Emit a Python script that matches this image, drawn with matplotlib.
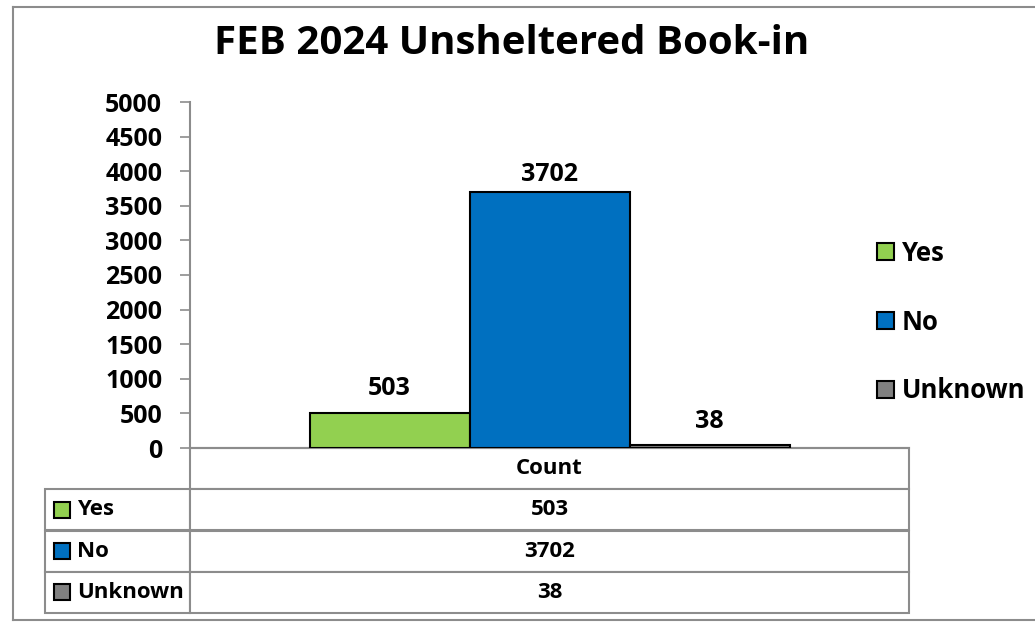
import matplotlib.pyplot as plt
from matplotlib.patches import Rectangle, Patch
from matplotlib.lines import Line2D

# Dados
categorias = ['Yes', 'No', 'Unknown']
valores = [503, 3702, 38]
cores = ['#92D050', '#0070C0', '#808080']
grupo = 'Count'
titulo = 'FEB 2024 Unsheltered Book-in'
yticks = list(range(0, 5001, 500))

plt.rcParams['font.family'] = ['Open Sans', 'DejaVu Sans']
plt.rcParams['font.weight'] = 'bold'

W, H = 1035, 622
fig = plt.figure(figsize=(W / 100, H / 100), dpi=100)

# área do gráfico (em pixels da figura)
x0, x1, ytop, ybot = 190, 909, 102, 448
ax = fig.add_axes([x0 / W, 1 - ybot / H, (x1 - x0) / W, (ybot - ytop) / H])

largura = 160 / (x1 - x0)
offsets = [(i - 1) * largura for i in range(len(categorias))]
barras = ax.bar(offsets, valores, width=largura, color=cores,
                edgecolor='black', linewidth=1.5, zorder=3)
# rótulos (o Excel deixa o maior mais perto da barra)
afast = [8.5, 3.5, 8.5]
for b, v, p in zip(barras, valores, afast):
    ax.annotate(str(v), (b.get_x() + b.get_width() / 2, v),
                xytext=(0, p), textcoords='offset points',
                ha='center', va='bottom', fontsize=18, fontweight='bold')

ax.set_xlim(-0.5, 0.5)
ax.set_ylim(0, 5000)
ax.set_yticks(yticks)
ax.set_yticklabels([str(t) for t in yticks], fontsize=18, fontweight='bold')
ax.set_xticks([])
ax.tick_params(axis='y', length=7, width=1.2, color='#8c8c8c', pad=13)
for s in ['top', 'right']:
    ax.spines[s].set_visible(False)
for s in ['left', 'bottom']:
    ax.spines[s].set_color('#8c8c8c')
    ax.spines[s].set_linewidth(1.5)

# tabela de dados
col_lab = (45 - x0) / (x1 - x0)
altura_tab = (613 - ybot) / (ybot - ytop)
linhas = [['', grupo]] + [[c, str(v)] for c, v in zip(categorias, valores)]
tab = ax.table(cellText=linhas, cellLoc='center',
               colWidths=[-col_lab, 1.0],
               bbox=[col_lab, -altura_tab, 1 - col_lab, altura_tab])
tab.auto_set_font_size(False)
for (r, c), cell in tab.get_celld().items():
    cell.set_edgecolor('#8c8c8c')
    cell.set_linewidth(1.5)
    cell.get_text().set_fontsize(16)
    cell.get_text().set_fontweight('bold')
    if r == 0 and c == 0:
        cell.visible_edges = ''
    if c == 0 and r > 0:
        cell._loc = 'left'
        cell.PAD = 0.22
        cell.get_text().set_horizontalalignment('left')

# quadradinhos de cor na tabela
h_linha = altura_tab / len(linhas)
q_w = 16 / (x1 - x0)
q_h = 16 / (ybot - ytop)
for i, cor in enumerate(cores):
    yc = -(i + 1.5) * h_linha
    ax.add_patch(Rectangle(((54 - x0) / (x1 - x0), yc - q_h / 2), q_w, q_h,
                           transform=ax.transAxes, facecolor=cor,
                           edgecolor='black', linewidth=1.5, clip_on=False,
                           zorder=5))

# legenda
handles = [Patch(facecolor=c, edgecolor='black', linewidth=1.5) for c in cores]
fig.legend(handles, categorias, loc='center left',
           bbox_to_anchor=(854 / W, 1 - 322 / H), frameon=False,
           handlelength=0.65, handleheight=0.65,
           handletextpad=0.3, labelspacing=1.62,
           prop={'weight': 'bold', 'size': 18.5})

fig.text(512 / W, 1 - 44 / H, titulo, ha='center', va='center',
         fontsize=29, fontweight='bold')

# moldura externa
cinza = '#8c8c8c'
fig.add_artist(Line2D([13 / W, 13 / W], [1 - 7 / H, 1 - 620 / H], color=cinza, lw=1.5))
fig.add_artist(Line2D([13 / W, 1], [1 - 7 / H, 1 - 7 / H], color=cinza, lw=1.5))
fig.add_artist(Line2D([13 / W, 1], [1 - 620 / H, 1 - 620 / H], color=cinza, lw=1.5))

fig.savefig('out.png', dpi=100)
